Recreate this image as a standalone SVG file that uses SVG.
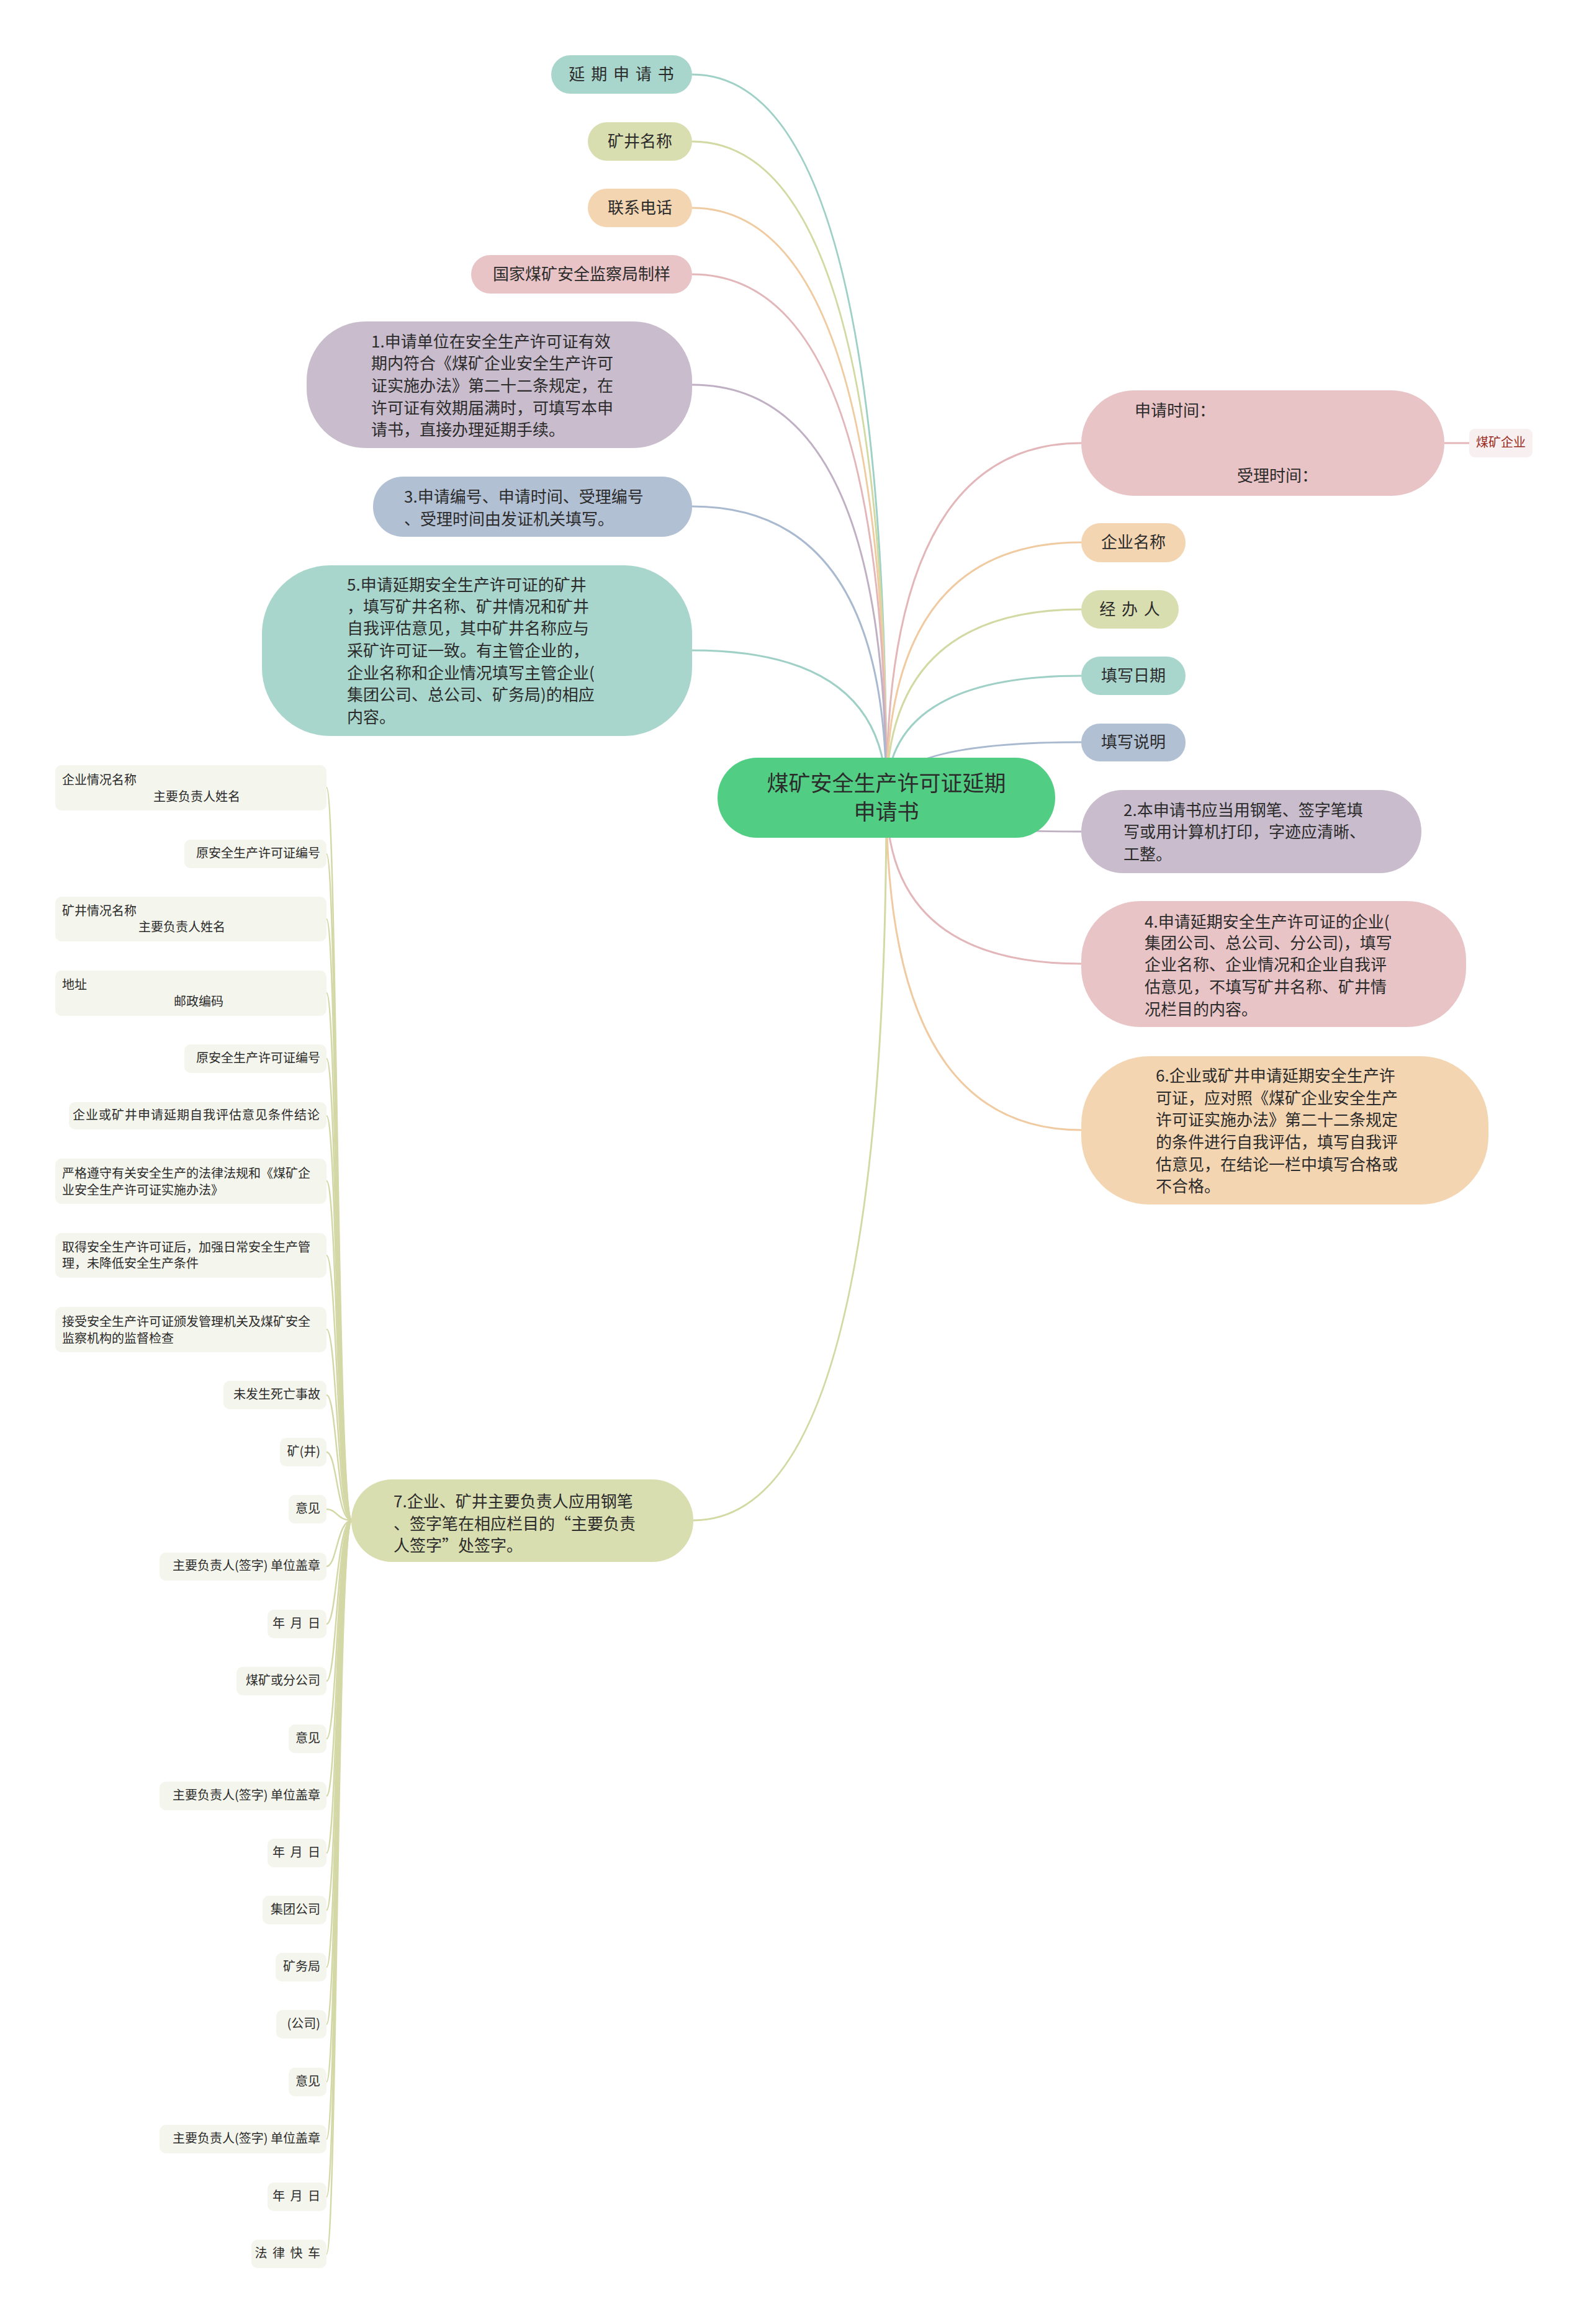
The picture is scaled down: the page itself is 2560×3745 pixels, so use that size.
<svg xmlns="http://www.w3.org/2000/svg" width="2560" height="3745" viewBox="0 0 2560 3745">
<style>
text{font-family:"Noto Sans CJK SC","Noto Sans",sans-serif;fill:#2b2b2b;transform:translateY(-3px)}
.t26{font-size:26px}
.t20{font-size:20px}
.c{text-anchor:middle;dominant-baseline:central}
.s{dominant-baseline:central}
.e{text-anchor:end;dominant-baseline:central}
.sp{letter-spacing:2px}
.ln{fill:none;stroke-width:3}
.lf{fill:none;stroke:#d3d8a6;stroke-width:2.5}
.leaf{fill:#f4f5ec}
.teal{fill:#a9d6cc}.olive{fill:#d9deb0}.peach{fill:#f3d5b2}.pink{fill:#e8c4c6}.mauve{fill:#c9bccc}.blue{fill:#b1c0d3}
</style>
<rect width="2560" height="3745" fill="#ffffff"/>
<g id="connectors">
<path class="ln" stroke="#9fd0c6" d="M1428,1285 Q1428,120 1115,120"/>
<path class="ln" stroke="#d3d9a3" d="M1428,1285 Q1428,228 1115,228"/>
<path class="ln" stroke="#f0cba2" d="M1428,1285 Q1428,335 1115,335"/>
<path class="ln" stroke="#e3b6b9" d="M1428,1285 Q1428,442 1115,442"/>
<path class="ln" stroke="#c0b0c4" d="M1428,1285 Q1428,620 1115,620"/>
<path class="ln" stroke="#a9b9cf" d="M1428,1285 Q1428,816 1115,816"/>
<path class="ln" stroke="#9fd0c6" d="M1428,1285 Q1428,1048 1115,1048"/>
<path class="ln" stroke="#d3d9a3" d="M1428,1285 Q1428,2450 1117,2450"/>
<path class="ln" stroke="#e3b6b9" d="M1428,1285 Q1428,714 1742,714"/>
<path class="ln" stroke="#f0cba2" d="M1428,1285 Q1428,874 1742,874"/>
<path class="ln" stroke="#d3d9a3" d="M1428,1285 Q1428,982 1742,982"/>
<path class="ln" stroke="#9fd0c6" d="M1428,1285 Q1428,1089 1742,1089"/>
<path class="ln" stroke="#a9b9cf" d="M1428,1285 Q1428,1196 1742,1196"/>
<path class="ln" stroke="#c0b0c4" d="M1428,1285 Q1428,1340 1742,1340"/>
<path class="ln" stroke="#e3b6b9" d="M1428,1285 Q1428,1553 1742,1553"/>
<path class="ln" stroke="#f0cba2" d="M1428,1285 Q1428,1821 1742,1821"/>
<path class="ln" stroke="#e3b6b9" d="M2327,714 L2367,714"/>
<path class="lf" d="M567,2450 C543,2450 543,1269 526,1269"/>
<path class="lf" d="M567,2450 C543,2450 543,1376 526,1376"/>
<path class="lf" d="M567,2450 C543,2450 543,1481 526,1481"/>
<path class="lf" d="M567,2450 C543,2450 543,1600 526,1600"/>
<path class="lf" d="M567,2450 C543,2450 543,1706 526,1706"/>
<path class="lf" d="M567,2450 C543,2450 543,1798 526,1798"/>
<path class="lf" d="M567,2450 C543,2450 543,1903 526,1903"/>
<path class="lf" d="M567,2450 C543,2450 543,2023 526,2023"/>
<path class="lf" d="M567,2450 C543,2450 543,2142 526,2142"/>
<path class="lf" d="M567,2450 C543,2450 543,2248 526,2248"/>
<path class="lf" d="M567,2450 C543,2450 543,2340 526,2340"/>
<path class="lf" d="M567,2450 C543,2450 543,2432 526,2432"/>
<path class="lf" d="M567,2450 C543,2450 543,2524 526,2524"/>
<path class="lf" d="M567,2450 C543,2450 543,2617 526,2617"/>
<path class="lf" d="M567,2450 C543,2450 543,2709 526,2709"/>
<path class="lf" d="M567,2450 C543,2450 543,2802 526,2802"/>
<path class="lf" d="M567,2450 C543,2450 543,2894 526,2894"/>
<path class="lf" d="M567,2450 C543,2450 543,2986 526,2986"/>
<path class="lf" d="M567,2450 C543,2450 543,3078 526,3078"/>
<path class="lf" d="M567,2450 C543,2450 543,3170 526,3170"/>
<path class="lf" d="M567,2450 C543,2450 543,3262 526,3262"/>
<path class="lf" d="M567,2450 C543,2450 543,3355 526,3355"/>
<path class="lf" d="M567,2450 C543,2450 543,3447 526,3447"/>
<path class="lf" d="M567,2450 C543,2450 543,3540 526,3540"/>
<path class="lf" d="M567,2450 C543,2450 543,3632 526,3632"/>
</g>
<g id="center"><rect x="1156" y="1221" width="544" height="129" rx="64" fill="#52cd84"/><text class="c" x="1428" y="1262" style="font-size:35px">煤矿安全生产许可证延期</text><text class="c" x="1428" y="1308" style="font-size:35px">申请书</text></g>
<g id="n-yqsqs"><rect class="teal" x="888" y="89" width="227" height="62" rx="31"/><text class="t26 c sp" x="1002" y="120">延 期 申 请 书</text></g>
<g id="n-kjmc"><rect class="olive" x="947" y="197" width="168" height="62" rx="31"/><text class="t26 c" x="1031" y="228">矿井名称</text></g>
<g id="n-lxdh"><rect class="peach" x="947" y="304" width="168" height="62" rx="31"/><text class="t26 c" x="1031" y="335">联系电话</text></g>
<g id="n-gj"><rect class="pink" x="759" y="411" width="356" height="62" rx="31"/><text class="t26 c" x="937" y="442">国家煤矿安全监察局制样</text></g>
<g id="n-1"><rect class="mauve" x="494" y="518" width="621" height="204" rx="95"/>
<text class="t26 s" x="598" y="551">1.申请单位在安全生产许可证有效</text>
<text class="t26 s" x="598" y="586">期内符合《煤矿企业安全生产许可</text>
<text class="t26 s" x="598" y="622">证实施办法》第二十二条规定，在</text>
<text class="t26 s" x="598" y="658">许可证有效期届满时，可填写本申</text>
<text class="t26 s" x="598" y="693">请书，直接办理延期手续。</text></g>
<g id="n-3"><rect class="blue" x="601" y="768" width="514" height="97" rx="48"/>
<text class="t26 s" x="651" y="801">3.申请编号、申请时间、受理编号</text>
<text class="t26 s" x="651" y="837">、受理时间由发证机关填写。</text></g>
<g id="n-5"><rect class="teal" x="422" y="911" width="693" height="275" rx="110"/>
<text class="t26 s" x="559" y="943">5.申请延期安全生产许可证的矿井</text>
<text class="t26 s" x="559" y="978">，填写矿井名称、矿井情况和矿井</text>
<text class="t26 s" x="559" y="1013">自我评估意见，其中矿井名称应与</text>
<text class="t26 s" x="559" y="1049">采矿许可证一致。有主管企业的，</text>
<text class="t26 s" x="559" y="1085">企业名称和企业情况填写主管企业(</text>
<text class="t26 s" x="559" y="1120">集团公司、总公司、矿务局)的相应</text>
<text class="t26 s" x="559" y="1156">内容。</text></g>
<g id="n-7"><rect class="olive" x="566" y="2384" width="551" height="133" rx="66"/>
<text class="t26 s" x="634" y="2420">7.企业、矿井主要负责人应用钢笔</text>
<text class="t26 s" x="634" y="2456">、签字笔在相应栏目的“主要负责</text>
<text class="t26 s" x="634" y="2491">人签字”处签字。</text></g>
<g id="n-sqsj"><rect class="pink" x="1742" y="629" width="585" height="170" rx="85"/>
<text class="t26 s" x="1828" y="662">申请时间：</text>
<text class="t26 s" x="1993" y="767">受理时间：</text></g>
<g id="n-mkqy"><rect x="2367" y="691" width="102" height="46" rx="9" fill="#f7eff0"/><text class="t20 c" x="2418" y="714" style="fill:#9b2a20">煤矿企业</text></g>
<g id="n-qymc"><rect class="peach" x="1742" y="843" width="168" height="63" rx="31"/><text class="t26 c" x="1826" y="874">企业名称</text></g>
<g id="n-jbr"><rect class="olive" x="1742" y="951" width="157" height="62" rx="31"/><text class="t26 c sp" x="1821" y="982">经 办 人</text></g>
<g id="n-txrq"><rect class="teal" x="1742" y="1058" width="168" height="62" rx="31"/><text class="t26 c" x="1826" y="1089">填写日期</text></g>
<g id="n-txsm"><rect class="blue" x="1742" y="1166" width="168" height="61" rx="30"/><text class="t26 c" x="1826" y="1196">填写说明</text></g>
<g id="n-2"><rect class="mauve" x="1742" y="1273" width="548" height="134" rx="67"/>
<text class="t26 s" x="1810" y="1306">2.本申请书应当用钢笔、签字笔填</text>
<text class="t26 s" x="1810" y="1341">写或用计算机打印，字迹应清晰、</text>
<text class="t26 s" x="1810" y="1377">工整。</text></g>
<g id="n-4"><rect class="pink" x="1742" y="1452" width="620" height="203" rx="95"/>
<text class="t26 s" x="1844" y="1486">4.申请延期安全生产许可证的企业(</text>
<text class="t26 s" x="1844" y="1520">集团公司、总公司、分公司)，填写</text>
<text class="t26 s" x="1844" y="1555">企业名称、企业情况和企业自我评</text>
<text class="t26 s" x="1844" y="1591">估意见，不填写矿井名称、矿井情</text>
<text class="t26 s" x="1844" y="1627">况栏目的内容。</text></g>
<g id="n-6"><rect class="peach" x="1742" y="1702" width="656" height="239" rx="110"/>
<text class="t26 s" x="1862" y="1734">6.企业或矿井申请延期安全生产许</text>
<text class="t26 s" x="1862" y="1770">可证，应对照《煤矿企业安全生产</text>
<text class="t26 s" x="1862" y="1805">许可证实施办法》第二十二条规定</text>
<text class="t26 s" x="1862" y="1841">的条件进行自我评估，填写自我评</text>
<text class="t26 s" x="1862" y="1877">估意见，在结论一栏中填写合格或</text>
<text class="t26 s" x="1862" y="1912">不合格。</text></g>
<g id="leaf-1"><rect class="leaf" x="89" y="1233" width="437" height="73" rx="10"/><text class="t20 s" x="100" y="1258">企业情况名称</text><text class="t20 s" x="247" y="1285">主要负责人姓名</text></g>
<g id="leaf-2"><rect class="leaf" x="297" y="1353" width="229" height="46" rx="10"/><text class="t20 e" x="516" y="1376">原安全生产许可证编号</text></g>
<g id="leaf-3"><rect class="leaf" x="89" y="1445" width="437" height="72" rx="10"/><text class="t20 s" x="100" y="1469">矿井情况名称</text><text class="t20 s" x="223" y="1495">主要负责人姓名</text></g>
<g id="leaf-4"><rect class="leaf" x="89" y="1564" width="437" height="73" rx="10"/><text class="t20 s" x="100" y="1588">地址</text><text class="t20 s" x="280" y="1615">邮政编码</text></g>
<g id="leaf-5"><rect class="leaf" x="297" y="1683" width="229" height="46" rx="10"/><text class="t20 e" x="516" y="1706">原安全生产许可证编号</text></g>
<g id="leaf-6"><rect class="leaf" x="111" y="1776" width="415" height="44" rx="10"/><text class="t20 e" x="516" y="1798" style="letter-spacing:1px">企业或矿井申请延期自我评估意见条件结论</text></g>
<g id="leaf-7"><rect class="leaf" x="89" y="1867" width="437" height="73" rx="10"/><text class="t20 s" x="100" y="1892">严格遵守有关安全生产的法律法规和《煤矿企</text><text class="t20 s" x="100" y="1919">业安全生产许可证实施办法》</text></g>
<g id="leaf-8"><rect class="leaf" x="89" y="1987" width="437" height="72" rx="10"/><text class="t20 s" x="100" y="2011">取得安全生产许可证后，加强日常安全生产管</text><text class="t20 s" x="100" y="2037">理，未降低安全生产条件</text></g>
<g id="leaf-9"><rect class="leaf" x="89" y="2106" width="437" height="73" rx="10"/><text class="t20 s" x="100" y="2131">接受安全生产许可证颁发管理机关及煤矿安全</text><text class="t20 s" x="100" y="2158">监察机构的监督检查</text></g>
<g id="leaf-10"><rect class="leaf" x="360" y="2225" width="166" height="46" rx="10"/><text class="t20 e" x="516" y="2248">未发生死亡事故</text></g>
<g id="leaf-11"><rect class="leaf" x="451" y="2317" width="75" height="46" rx="10"/><text class="t20 e" x="516" y="2340">矿(井)</text></g>
<g id="leaf-12"><rect class="leaf" x="465" y="2409" width="61" height="46" rx="10"/><text class="t20 e" x="516" y="2432">意见</text></g>
<g id="leaf-13"><rect class="leaf" x="257" y="2502" width="269" height="45" rx="10"/><text class="t20 e" x="516" y="2524">主要负责人(签字) 单位盖章</text></g>
<g id="leaf-14"><rect class="leaf" x="431" y="2594" width="95" height="46" rx="10"/><text class="t20 e" x="518" y="2617" style="letter-spacing:2px">年 月 日</text></g>
<g id="leaf-15"><rect class="leaf" x="381" y="2686" width="145" height="46" rx="10"/><text class="t20 e" x="516" y="2709">煤矿或分公司</text></g>
<g id="leaf-16"><rect class="leaf" x="465" y="2779" width="61" height="46" rx="10"/><text class="t20 e" x="516" y="2802">意见</text></g>
<g id="leaf-17"><rect class="leaf" x="257" y="2871" width="269" height="46" rx="10"/><text class="t20 e" x="516" y="2894">主要负责人(签字) 单位盖章</text></g>
<g id="leaf-18"><rect class="leaf" x="431" y="2963" width="95" height="46" rx="10"/><text class="t20 e" x="518" y="2986" style="letter-spacing:2px">年 月 日</text></g>
<g id="leaf-19"><rect class="leaf" x="423" y="3055" width="103" height="46" rx="10"/><text class="t20 e" x="516" y="3078">集团公司</text></g>
<g id="leaf-20"><rect class="leaf" x="444" y="3147" width="82" height="46" rx="10"/><text class="t20 e" x="516" y="3170">矿务局</text></g>
<g id="leaf-21"><rect class="leaf" x="445" y="3239" width="81" height="46" rx="10"/><text class="t20 e" x="516" y="3262">(公司)</text></g>
<g id="leaf-22"><rect class="leaf" x="465" y="3332" width="61" height="46" rx="10"/><text class="t20 e" x="516" y="3355">意见</text></g>
<g id="leaf-23"><rect class="leaf" x="257" y="3424" width="269" height="46" rx="10"/><text class="t20 e" x="516" y="3447">主要负责人(签字) 单位盖章</text></g>
<g id="leaf-24"><rect class="leaf" x="431" y="3517" width="95" height="46" rx="10"/><text class="t20 e" x="518" y="3540" style="letter-spacing:2px">年 月 日</text></g>
<g id="leaf-25"><rect class="leaf" x="405" y="3609" width="121" height="46" rx="10"/><text class="t20 e" x="518" y="3632" style="letter-spacing:2px">法 律 快 车</text></g>
</svg>
